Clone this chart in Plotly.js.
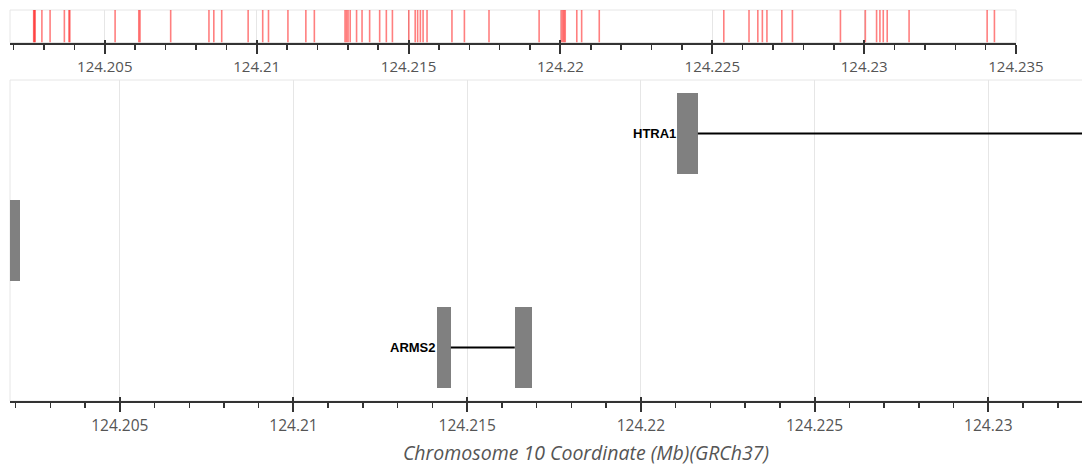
<!DOCTYPE html>
<html>
<head>
<meta charset="utf-8">
<script src="https://cdn.plot.ly/plotly-3.0.1.min.js"></script>
<style>
html,body{margin:0;padding:0;overflow:hidden;background:#fff;}
#chart{width:1172px;height:470px;}
</style>
</head>
<body>
<div id="chart"></div>
<script>
// Variant positions (Mb, chr10, GRCh37)
const variantPositions = [
  124.20266, 124.20268, 124.20271, 124.20293, 124.20320, 124.20367, 124.20382, 124.20385,
  124.20534, 124.20612, 124.20616, 124.20717, 124.20843, 124.20859, 124.20885, 124.20972,
  124.21020, 124.21039, 124.21103, 124.21162, 124.21190,
  124.21291, 124.21296, 124.21301, 124.21308, 124.21329, 124.21347, 124.21372, 124.21405,
  124.21427, 124.21447, 124.21501, 124.21522, 124.21530, 124.21539, 124.21548, 124.21561,
  124.21643, 124.21684, 124.21765, 124.21930,
  124.22003, 124.22008, 124.22012, 124.22016, 124.22054, 124.22070, 124.22128,
  124.22538, 124.22621, 124.22650, 124.22665, 124.22680, 124.22729, 124.22764,
  124.22922, 124.23004, 124.23041, 124.23052, 124.23063, 124.23076, 124.23148,
  124.23405, 124.23429
];

// Genes
const geneNames = ['HTRA1', '', 'ARMS2'];
const geneRows  = [3, 2, 1];
const geneStart = [124.22104, 124.20120, 124.21414];
const geneEnd   = [124.27442, 124.20213, 124.21687];

// Exons (index into genes)
const exonGene  = [0, 1, 2, 2];
const exonStart = [124.22104, 124.20120, 124.21414, 124.21637];
const exonEnd   = [124.22164, 124.20213, 124.21453, 124.21687];

const axisTitle = 'Chromosome 10 Coordinate (Mb)(GRCh37)';
const bottomRange = [124.20184, 124.235];
const topRange = [124.20188, 124.235];

// ---- build traces ----
const vx = [], vy = [];
variantPositions.forEach(p => { vx.push(p, p, null); vy.push(0, 1, null); });

const variantTrace = {
  type: 'scatter', mode: 'lines', x: vx, y: vy, xaxis: 'x2', yaxis: 'y2',
  line: {color: 'rgba(255,0,0,0.5)', width: 1.6}, hoverinfo: 'skip', showlegend: false
};

// intron segments
const lx = [], ly = [];
geneNames.forEach((g, gi) => {
  const ex = [];
  exonGene.forEach((eg, ei) => { if (eg === gi) ex.push([exonStart[ei], exonEnd[ei]]); });
  ex.sort((a, b) => a[0] - b[0]);
  let cur = geneStart[gi];
  ex.forEach(e => {
    if (e[0] > cur) { lx.push(cur, e[0], null); ly.push(geneRows[gi], geneRows[gi], null); }
    cur = Math.max(cur, e[1]);
  });
  if (geneEnd[gi] > cur) { lx.push(cur, geneEnd[gi], null); ly.push(geneRows[gi], geneRows[gi], null); }
});
const intronTrace = {
  type: 'scatter', mode: 'lines', x: lx, y: ly, xaxis: 'x', yaxis: 'y',
  line: {color: '#000', width: 2.2}, hoverinfo: 'skip', showlegend: false
};

const exonTrace = {
  type: 'bar', orientation: 'h', xaxis: 'x', yaxis: 'y',
  base: exonStart,
  x: exonStart.map((s, i) => exonEnd[i] - s),
  y: exonGene.map(g => geneRows[g]),
  width: 0.76,
  marker: {color: '#808080', line: {width: 0}},
  hoverinfo: 'skip', showlegend: false
};

const dummyBottom = {type: 'scatter', x: [], y: [], xaxis: 'x3', yaxis: 'y', showlegend: false};
const dummyTop = {type: 'scatter', x: [], y: [], xaxis: 'x4', yaxis: 'y2', showlegend: false};

const annotations = [];
geneNames.forEach((g, gi) => {
  if (g && geneStart[gi] > bottomRange[0]) {
    annotations.push({
      x: geneStart[gi], y: geneRows[gi], xref: 'x', yref: 'y',
      text: '<b>' + g + '</b>', showarrow: false, xanchor: 'right', yanchor: 'middle',
      xshift: 1,
      font: {family: 'Liberation Sans, Arial, sans-serif', size: 13, color: '#000'}
    });
  }
});

const tickFont = {family: 'Open Sans, sans-serif', color: '#555'};
const topDomainX = [0, (1016 - 10) / 1152];
const yBotDomain = [0, (401 - 80) / 391];
const yTopDomain = [(401 - 42.5) / 391, 1];

const layout = {
  width: 1172, height: 470,
  margin: {l: 10, r: 10, t: 10, b: 69},
  paper_bgcolor: '#fff', plot_bgcolor: '#fff',
  showlegend: false, bargap: 0,
  xaxis: {
    domain: [0, 1], anchor: 'y', range: bottomRange,
    tick0: 124.2, dtick: 0.005, ticks: 'outside', ticklen: 9, tickwidth: 2, tickcolor: '#333',
    minor: {dtick: 0.001, ticks: 'outside', ticklen: 5, tickwidth: 1.5, tickcolor: '#333', showgrid: false},
    showline: true, linecolor: '#333', linewidth: 2,
    showgrid: true, gridcolor: '#e6e6e6', gridwidth: 1, zeroline: false,
    tickfont: Object.assign({size: 15.5}, tickFont),
    title: {text: axisTitle, font: {family: 'Open Sans, sans-serif', size: 19.5, color: '#555', style: 'italic'}, standoff: 12},
    fixedrange: true
  },
  yaxis: {
    domain: yBotDomain, anchor: 'x', range: [0.5, 3.5],
    showticklabels: false, ticks: '', showgrid: false, zeroline: false, showline: false, fixedrange: true
  },
  xaxis2: {
    domain: topDomainX, anchor: 'y2', range: topRange,
    tick0: 124.2, dtick: 0.005, ticks: 'outside', ticklen: 9, tickwidth: 2, tickcolor: '#333',
    minor: {dtick: 0.001, ticks: 'outside', ticklen: 5.5, tickwidth: 1.5, tickcolor: '#333', showgrid: false},
    showline: true, linecolor: '#333', linewidth: 2,
    showgrid: true, gridcolor: '#e6e6e6', gridwidth: 1, zeroline: false,
    tickfont: Object.assign({size: 15}, tickFont),
    fixedrange: true
  },
  yaxis2: {
    domain: yTopDomain, anchor: 'x2', range: [0, 1],
    showticklabels: false, ticks: '', showgrid: false, zeroline: false, showline: false, fixedrange: true
  },
  xaxis3: {
    overlaying: 'x', anchor: 'y', range: bottomRange,
    tick0: 124.2, dtick: 0.005, ticks: 'inside', ticklen: 4, tickwidth: 2, tickcolor: '#333',
    showticklabels: false, showgrid: false, zeroline: false, showline: false, fixedrange: true
  },
  xaxis4: {
    overlaying: 'x2', anchor: 'y2', range: topRange,
    tick0: 124.2, dtick: 0.005, ticks: 'inside', ticklen: 3, tickwidth: 2, tickcolor: '#333',
    showticklabels: false, showgrid: false, zeroline: false, showline: false, fixedrange: true
  },
  shapes: [
    {type: 'rect', xref: 'x domain', yref: 'y domain', x0: 0, x1: 1, y0: 0, y1: 1,
     line: {color: '#e6e6e6', width: 1}, layer: 'below'},
    {type: 'rect', xref: 'x2 domain', yref: 'y2 domain', x0: 0, x1: 1, y0: 0, y1: 1,
     line: {color: '#e6e6e6', width: 1}, layer: 'below'}
  ],
  annotations: annotations
};

Plotly.newPlot('chart', [variantTrace, intronTrace, exonTrace, dummyBottom, dummyTop], layout,
  {displayModeBar: false, staticPlot: true});
</script>
</body>
</html>
